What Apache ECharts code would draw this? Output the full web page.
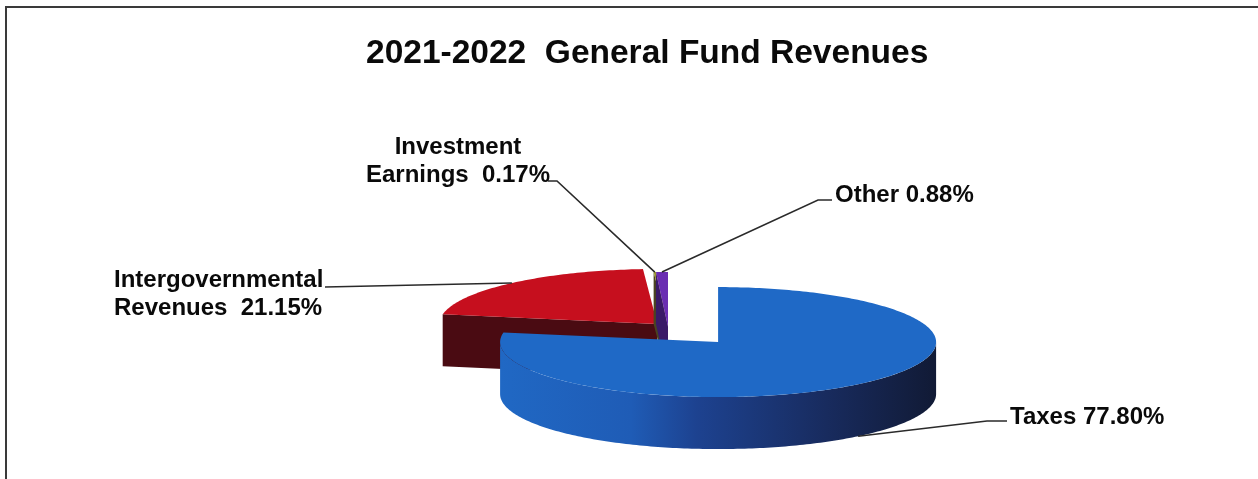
<!DOCTYPE html>
<html>
<head>
<meta charset="utf-8">
<script src="https://cdn.jsdelivr.net/npm/echarts@6/dist/echarts.min.js"></script>
<style>
  html, body { margin: 0; padding: 0; background: #ffffff; }
  #chart { width: 1258px; height: 479px; }
</style>
</head>
<body>
<div id="chart"></div>
<script>
// Revenue categories and their share of the general fund (percent)
const categories = ['Taxes', 'Intergovernmental\nRevenues', 'Investment\nEarnings', 'Other'];
const shares = [77.80, 21.15, 0.17, 0.88];
const chartTitle = '2021-2022  General Fund Revenues';

// Slice styling
const topColors = ['#1f69c6', '#c60f1e', '#9c9a2c', '#6a2db2'];
const faceColors = ['#16285a', '#4a0b12', '#4a4420', '#3a1a68'];
const wallStops = [
  [[0, '#2068c4'], [0.3, '#1f5cb6'], [0.45, '#1d4290'], [0.75, '#182b5e'], [1, '#111a35']],
  [[0, '#5a0c14'], [1, '#3a060c']],
  [[0, '#5a5422'], [1, '#3a3618']],
  [[0, '#4a2480'], [1, '#2e1258']]
];
const explodeDist = [78, 16, 0, 0];

// Pie geometry (pixels)
const pie = { cx: 668, cy: 327, rx: 218, ry: 55, depth: 52 };

// Label placement: text anchor point and alignment, leader start and optional elbow
const labelLayout = [
  { x: 1010, y: 403, align: 'left', start: [1007, 421], elbow: [987, 421] },
  { x: 114, y: 266, align: 'left', start: [325, 287], elbow: null },
  { x: 458, y: 133, align: 'center', start: [548, 181], elbow: [557, 181] },
  { x: 835, y: 181, align: 'left', start: [832, 200], elbow: [818, 200] }
];

const total = shares.reduce((s, v) => s + v, 0);
const startAngles = [];
(function () {
  let acc = 0;
  shares.forEach(function (v) { startAngles.push(acc); acc += v / total * 360; });
})();

function sliceCenter(i) {
  const a0 = startAngles[i];
  const a1 = a0 + shares[i] / total * 360;
  const mid = (a0 + a1) / 2 * Math.PI / 180;
  const d = explodeDist[i];
  return [pie.cx + d * Math.sin(mid), pie.cy - d * Math.cos(mid) * pie.ry / pie.rx];
}

function pt(c, deg, dy) {
  const r = deg * Math.PI / 180;
  return [c[0] + pie.rx * Math.sin(r), c[1] - pie.ry * Math.cos(r) + (dy || 0)];
}

function arc(c, a, b, dy) {
  const pts = [];
  const n = Math.max(2, Math.ceil(Math.abs(b - a) / 1));
  for (let k = 0; k <= n; k++) pts.push(pt(c, a + (b - a) * k / n, dy));
  return pts;
}

// Back slices first so nearer slices cover them
const drawOrder = categories.map((_, i) => i).sort(function (p, q) {
  return sliceCenter(p)[1] - sliceCenter(q)[1];
});

function renderSlice(params, api) {
  const i = api.value(0);
  const a = startAngles[i];
  const b = a + shares[i] / total * 360;
  const mid = (a + b) / 2;
  const c = sliceCenter(i);
  const D = pie.depth;
  const children = [];

  // Outer wall (front half only)
  const lo = Math.max(a, 90), hi = Math.min(b, 270);
  if (hi > lo) {
    const pts = arc(c, lo, hi, 0).concat(arc(c, hi, lo, D));
    children.push({
      type: 'polygon',
      shape: { points: pts },
      style: {
        fill: { type: 'linear', x: 0, y: 0, x2: 1, y2: 0,
          colorStops: wallStops[i].map(s => ({ offset: s[0], color: s[1] })) }
      }
    });
  }
  // Radial faces facing the viewer
  if (a > 180 && a < 360) {
    const p = pt(c, a);
    children.push({ type: 'polygon',
      shape: { points: [c, p, [p[0], p[1] + D], [c[0], c[1] + D]] },
      style: { fill: faceColors[i] } });
  }
  if (b > 0 && b < 180) {
    const p = pt(c, b);
    children.push({ type: 'polygon',
      shape: { points: [c, p, [p[0], p[1] + D], [c[0], c[1] + D]] },
      style: { fill: faceColors[i] } });
  }
  // Top face
  children.push({ type: 'polygon',
    shape: { points: [c].concat(arc(c, a, b, 0)) },
    style: { fill: topColors[i] } });

  // Leader line and label
  const lay = labelLayout[i];
  const anchor = (mid > 90 && mid < 270) ? pt(c, mid, D) : pt(c, mid, 0);
  const linePts = [lay.start];
  if (lay.elbow) linePts.push(lay.elbow);
  linePts.push(anchor);
  children.push({ type: 'polyline', shape: { points: linePts },
    style: { stroke: '#2a2a2a', lineWidth: 1.6, fill: null } });

  const multi = categories[i].indexOf('\n') >= 0;
  children.push({ type: 'text', x: lay.x, y: lay.y,
    style: {
      text: categories[i] + (multi ? '  ' : ' ') + shares[i].toFixed(2) + '%',
      fill: '#0a0a0a',
      fontSize: 24, fontWeight: 'bold',
      fontFamily: '"Liberation Sans", Arial, sans-serif',
      lineHeight: 28,
      align: lay.align, verticalAlign: 'top'
    } });

  return { type: 'group', children: children };
}

const chart = echarts.init(document.getElementById('chart'), null, { renderer: 'canvas' });
chart.setOption({
  backgroundColor: '#ffffff',
  animation: false,
  title: {
    text: chartTitle,
    left: 361, top: 32,
    textStyle: { fontSize: 33.5, fontWeight: 'bold', color: '#0a0a0a',
      fontFamily: '"Liberation Sans", Arial, sans-serif' }
  },
  graphic: [
    { type: 'polyline', shape: { points: [[6, 1000], [6, 7], [1258, 7]] },
      style: { stroke: '#3a3a3a', lineWidth: 2, fill: null }, silent: true }
  ],
  series: [{
    type: 'custom',
    coordinateSystem: 'none',
    renderItem: renderSlice,
    data: drawOrder.map(i => [i]),
    silent: true
  }]
});
</script>
</body>
</html>
